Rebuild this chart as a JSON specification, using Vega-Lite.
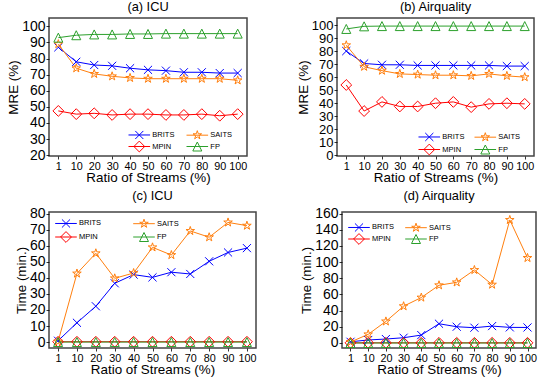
{
  "$schema": "https://vega.github.io/schema/vega-lite/v6.json",
  "padding": {"left": 5, "top": 0, "right": 0, "bottom": 0},
  "config": {
    "font": "Liberation Sans",
    "view": {"stroke": "#444", "strokeWidth": 1.5},
    "axis": {"grid": false, "domain": false, "tickColor": "#000", "tickSize": 3, "tickWidth": 0.8, "labelColor": "#000", "titleColor": "#000", "labelPadding": 1, "titlePadding": 1, "titleFontWeight": "normal", "titleFontSize": 13.4, "labelOverlap": false, "labelBound": false, "labelFlush": false},
    "axisX": {"labelFontSize": 10.8, "labelAngle": 0, "titlePadding": 0},
    "axisY": {"labelFontSize": 14},
    "title": {"fontSize": 12.8, "fontWeight": "normal", "offset": 0, "color": "#000"},
    "legend": {"labelFontSize": 7.5, "labelColor": "#000", "symbolStrokeWidth": 1, "symbolSize": 81, "labelOffset": 8, "columns": 2, "padding": 0, "rowPadding": 0, "columnPadding": 10, "symbolFillColor": "transparent"}
  },
  "datasets": {
    "mreICU": [
      {"ratio": 1, "method": "BRITS", "value": 87}, {"ratio": 10, "method": "BRITS", "value": 78}, {"ratio": 20, "method": "BRITS", "value": 76}, {"ratio": 30, "method": "BRITS", "value": 75.5}, {"ratio": 40, "method": "BRITS", "value": 74}, {"ratio": 50, "method": "BRITS", "value": 73}, {"ratio": 60, "method": "BRITS", "value": 72.5}, {"ratio": 70, "method": "BRITS", "value": 71.5}, {"ratio": 80, "method": "BRITS", "value": 71.5}, {"ratio": 90, "method": "BRITS", "value": 71}, {"ratio": 100, "method": "BRITS", "value": 71},
      {"ratio": 1, "method": "MPIN", "value": 47.5}, {"ratio": 10, "method": "MPIN", "value": 45.5}, {"ratio": 20, "method": "MPIN", "value": 46}, {"ratio": 30, "method": "MPIN", "value": 45}, {"ratio": 40, "method": "MPIN", "value": 45.5}, {"ratio": 50, "method": "MPIN", "value": 45.5}, {"ratio": 60, "method": "MPIN", "value": 45}, {"ratio": 70, "method": "MPIN", "value": 45}, {"ratio": 80, "method": "MPIN", "value": 45.5}, {"ratio": 90, "method": "MPIN", "value": 44.5}, {"ratio": 100, "method": "MPIN", "value": 45.5},
      {"ratio": 1, "method": "SAITS", "value": 89}, {"ratio": 10, "method": "SAITS", "value": 74}, {"ratio": 20, "method": "SAITS", "value": 70.5}, {"ratio": 30, "method": "SAITS", "value": 69}, {"ratio": 40, "method": "SAITS", "value": 68}, {"ratio": 50, "method": "SAITS", "value": 67.5}, {"ratio": 60, "method": "SAITS", "value": 67.5}, {"ratio": 70, "method": "SAITS", "value": 67.5}, {"ratio": 80, "method": "SAITS", "value": 67.5}, {"ratio": 90, "method": "SAITS", "value": 67.5}, {"ratio": 100, "method": "SAITS", "value": 66.5},
      {"ratio": 1, "method": "FP", "value": 93}, {"ratio": 10, "method": "FP", "value": 94.5}, {"ratio": 20, "method": "FP", "value": 95}, {"ratio": 30, "method": "FP", "value": 95}, {"ratio": 40, "method": "FP", "value": 95.3}, {"ratio": 50, "method": "FP", "value": 95.3}, {"ratio": 60, "method": "FP", "value": 95.5}, {"ratio": 70, "method": "FP", "value": 95.5}, {"ratio": 80, "method": "FP", "value": 95.5}, {"ratio": 90, "method": "FP", "value": 95.5}, {"ratio": 100, "method": "FP", "value": 95.5}
    ],
    "mreAir": [
      {"ratio": 1, "method": "BRITS", "value": 80}, {"ratio": 10, "method": "BRITS", "value": 70.5}, {"ratio": 20, "method": "BRITS", "value": 69.5}, {"ratio": 30, "method": "BRITS", "value": 69.5}, {"ratio": 40, "method": "BRITS", "value": 69}, {"ratio": 50, "method": "BRITS", "value": 69}, {"ratio": 60, "method": "BRITS", "value": 69}, {"ratio": 70, "method": "BRITS", "value": 69}, {"ratio": 80, "method": "BRITS", "value": 69}, {"ratio": 90, "method": "BRITS", "value": 68.5}, {"ratio": 100, "method": "BRITS", "value": 68.5},
      {"ratio": 1, "method": "MPIN", "value": 54}, {"ratio": 10, "method": "MPIN", "value": 34}, {"ratio": 20, "method": "MPIN", "value": 41}, {"ratio": 30, "method": "MPIN", "value": 37.5}, {"ratio": 40, "method": "MPIN", "value": 37.5}, {"ratio": 50, "method": "MPIN", "value": 40}, {"ratio": 60, "method": "MPIN", "value": 41}, {"ratio": 70, "method": "MPIN", "value": 37}, {"ratio": 80, "method": "MPIN", "value": 39.5}, {"ratio": 90, "method": "MPIN", "value": 40}, {"ratio": 100, "method": "MPIN", "value": 39.5},
      {"ratio": 1, "method": "SAITS", "value": 84.5}, {"ratio": 10, "method": "SAITS", "value": 68}, {"ratio": 20, "method": "SAITS", "value": 65}, {"ratio": 30, "method": "SAITS", "value": 62.5}, {"ratio": 40, "method": "SAITS", "value": 62}, {"ratio": 50, "method": "SAITS", "value": 61.5}, {"ratio": 60, "method": "SAITS", "value": 61.5}, {"ratio": 70, "method": "SAITS", "value": 61}, {"ratio": 80, "method": "SAITS", "value": 62.5}, {"ratio": 90, "method": "SAITS", "value": 61}, {"ratio": 100, "method": "SAITS", "value": 60},
      {"ratio": 1, "method": "FP", "value": 97}, {"ratio": 10, "method": "FP", "value": 99}, {"ratio": 20, "method": "FP", "value": 99.2}, {"ratio": 30, "method": "FP", "value": 99.2}, {"ratio": 40, "method": "FP", "value": 99.2}, {"ratio": 50, "method": "FP", "value": 99.2}, {"ratio": 60, "method": "FP", "value": 99.2}, {"ratio": 70, "method": "FP", "value": 99.2}, {"ratio": 80, "method": "FP", "value": 99.2}, {"ratio": 90, "method": "FP", "value": 99.2}, {"ratio": 100, "method": "FP", "value": 99.2}
    ],
    "timeICU": [
      {"ratio": 1, "method": "BRITS", "value": 0.8}, {"ratio": 10, "method": "BRITS", "value": 12}, {"ratio": 20, "method": "BRITS", "value": 22.3}, {"ratio": 30, "method": "BRITS", "value": 36.6}, {"ratio": 40, "method": "BRITS", "value": 42}, {"ratio": 50, "method": "BRITS", "value": 40.3}, {"ratio": 60, "method": "BRITS", "value": 43.5}, {"ratio": 70, "method": "BRITS", "value": 42.4}, {"ratio": 80, "method": "BRITS", "value": 50.3}, {"ratio": 90, "method": "BRITS", "value": 55.8}, {"ratio": 100, "method": "BRITS", "value": 58.5},
      {"ratio": 1, "method": "MPIN", "value": 0.2}, {"ratio": 10, "method": "MPIN", "value": 0.2}, {"ratio": 20, "method": "MPIN", "value": 0.2}, {"ratio": 30, "method": "MPIN", "value": 0.2}, {"ratio": 40, "method": "MPIN", "value": 0.2}, {"ratio": 50, "method": "MPIN", "value": 0.2}, {"ratio": 60, "method": "MPIN", "value": 0.2}, {"ratio": 70, "method": "MPIN", "value": 0.2}, {"ratio": 80, "method": "MPIN", "value": 0.2}, {"ratio": 90, "method": "MPIN", "value": 0.2}, {"ratio": 100, "method": "MPIN", "value": 0.2},
      {"ratio": 1, "method": "SAITS", "value": 0.3}, {"ratio": 10, "method": "SAITS", "value": 42.7}, {"ratio": 20, "method": "SAITS", "value": 55.3}, {"ratio": 30, "method": "SAITS", "value": 39.7}, {"ratio": 40, "method": "SAITS", "value": 43}, {"ratio": 50, "method": "SAITS", "value": 59}, {"ratio": 60, "method": "SAITS", "value": 54.2}, {"ratio": 70, "method": "SAITS", "value": 69.2}, {"ratio": 80, "method": "SAITS", "value": 65.3}, {"ratio": 90, "method": "SAITS", "value": 74.5}, {"ratio": 100, "method": "SAITS", "value": 72.5},
      {"ratio": 1, "method": "FP", "value": 0}, {"ratio": 10, "method": "FP", "value": 0}, {"ratio": 20, "method": "FP", "value": 0}, {"ratio": 30, "method": "FP", "value": 0}, {"ratio": 40, "method": "FP", "value": 0}, {"ratio": 50, "method": "FP", "value": 0}, {"ratio": 60, "method": "FP", "value": 0}, {"ratio": 70, "method": "FP", "value": 0}, {"ratio": 80, "method": "FP", "value": 0}, {"ratio": 90, "method": "FP", "value": 0}, {"ratio": 100, "method": "FP", "value": 0}
    ],
    "timeAir": [
      {"ratio": 1, "method": "BRITS", "value": 1.5}, {"ratio": 10, "method": "BRITS", "value": 3.7}, {"ratio": 20, "method": "BRITS", "value": 4.9}, {"ratio": 30, "method": "BRITS", "value": 6.5}, {"ratio": 40, "method": "BRITS", "value": 9.8}, {"ratio": 50, "method": "BRITS", "value": 23.8}, {"ratio": 60, "method": "BRITS", "value": 20.1}, {"ratio": 70, "method": "BRITS", "value": 18.9}, {"ratio": 80, "method": "BRITS", "value": 20.9}, {"ratio": 90, "method": "BRITS", "value": 19.3}, {"ratio": 100, "method": "BRITS", "value": 19.2},
      {"ratio": 1, "method": "MPIN", "value": 0.2}, {"ratio": 10, "method": "MPIN", "value": 0.2}, {"ratio": 20, "method": "MPIN", "value": 0.2}, {"ratio": 30, "method": "MPIN", "value": 0.2}, {"ratio": 40, "method": "MPIN", "value": 0.2}, {"ratio": 50, "method": "MPIN", "value": 0.2}, {"ratio": 60, "method": "MPIN", "value": 0.2}, {"ratio": 70, "method": "MPIN", "value": 0.2}, {"ratio": 80, "method": "MPIN", "value": 0.2}, {"ratio": 90, "method": "MPIN", "value": 0.2}, {"ratio": 100, "method": "MPIN", "value": 0.2},
      {"ratio": 1, "method": "SAITS", "value": 1.2}, {"ratio": 10, "method": "SAITS", "value": 10.7}, {"ratio": 20, "method": "SAITS", "value": 26.7}, {"ratio": 30, "method": "SAITS", "value": 45.5}, {"ratio": 40, "method": "SAITS", "value": 56.2}, {"ratio": 50, "method": "SAITS", "value": 71.4}, {"ratio": 60, "method": "SAITS", "value": 75}, {"ratio": 70, "method": "SAITS", "value": 90.3}, {"ratio": 80, "method": "SAITS", "value": 72.2}, {"ratio": 90, "method": "SAITS", "value": 152.2}, {"ratio": 100, "method": "SAITS", "value": 105.2},
      {"ratio": 1, "method": "FP", "value": 0}, {"ratio": 10, "method": "FP", "value": 0}, {"ratio": 20, "method": "FP", "value": 0}, {"ratio": 30, "method": "FP", "value": 0}, {"ratio": 40, "method": "FP", "value": 0}, {"ratio": 50, "method": "FP", "value": 0}, {"ratio": 60, "method": "FP", "value": 0}, {"ratio": 70, "method": "FP", "value": 0}, {"ratio": 80, "method": "FP", "value": 0}, {"ratio": 90, "method": "FP", "value": 0}, {"ratio": 100, "method": "FP", "value": 0}
    ]
  },
  "vconcat": [
    {
      "spacing": 47,
      "hconcat": [
        {
          "title": "(a) ICU",
          "width": 198, "height": 138,
          "data": {"name": "mreICU"},
          "resolve": {"scale": {"color": "independent", "shape": "independent"}},
          "encoding": {
            "x": {"field": "ratio", "type": "ordinal", "scale": {"type": "point", "padding": 0.52}, "axis": {"title": "Ratio of Streams (%)"}},
            "y": {"field": "value", "type": "quantitative", "scale": {"domain": [19.5, 105.2], "nice": false, "zero": false}, "axis": {"title": "MRE (%)", "values": [20, 30, 40, 50, 60, 70, 80, 90, 100]}}
          },
          "layer": [
            {"mark": {"type": "line", "strokeWidth": 1}, "encoding": {"color": {"field": "method", "type": "nominal", "scale": {"domain": ["BRITS", "MPIN", "SAITS", "FP"], "range": ["#0000ff", "#ff0000", "#ff7f0e", "#2ca02c"]}, "legend": null}}},
            {"mark": {"type": "point", "filled": false, "strokeWidth": 1, "size": 81, "opacity": 1}, "encoding": {"color": {"field": "method", "type": "nominal", "scale": {"domain": ["BRITS", "MPIN", "SAITS", "FP"], "range": ["#0000ff", "#ff0000", "#ff7f0e", "#2ca02c"]}, "legend": null}, "shape": {"field": "method", "type": "nominal", "scale": {"domain": ["BRITS", "MPIN", "SAITS", "FP"], "range": ["M-0.9,-0.9L0.9,0.9M-0.9,0.9L0.9,-0.9", "M0,-1.2L1.2,0L0,1.2L-1.2,0Z", "M0,-1L0.225,-0.309L0.951,-0.309L0.363,0.118L0.588,0.809L0,0.382L-0.588,0.809L-0.363,0.118L-0.951,-0.309L-0.225,-0.309Z", "M0,-1L1,1L-1,1Z"]}, "legend": null}}},
            {"transform": [{"filter": "false"}], "mark": {"type": "point", "filled": false, "strokeWidth": 1, "size": 81, "opacity": 1}, "encoding": {"color": {"field": "method", "type": "nominal", "scale": {"domain": ["BRITS", "MPIN", "SAITS", "FP"], "range": ["#0000ff", "#ff0000", "#ff7f0e", "#2ca02c"]}, "legend": {"title": null, "orient": "none", "legendX": 85.3, "legendY": 111.5, "rowPadding": -4, "columnPadding": 9, "symbolSize": 81}}, "shape": {"field": "method", "type": "nominal", "scale": {"domain": ["BRITS", "MPIN", "SAITS", "FP"], "range": ["M-2.4,0H2.4M-0.9,-0.9L0.9,0.9M-0.9,0.9L0.9,-0.9", "M-2.4,0H2.4M0,-1.2L1.2,0L0,1.2L-1.2,0Z", "M-2.4,0H2.4M0,-1L0.225,-0.309L0.951,-0.309L0.363,0.118L0.588,0.809L0,0.382L-0.588,0.809L-0.363,0.118L-0.951,-0.309L-0.225,-0.309Z", "M-2.4,0H2.4M0,-1L1,1L-1,1Z"]}, "legend": {"title": null, "orient": "none", "legendX": 85.3, "legendY": 111.5, "rowPadding": -4, "columnPadding": 9, "symbolSize": 81}}}}
          ]
        },
        {
          "title": "(b) Airquality",
          "width": 197, "height": 138,
          "data": {"name": "mreAir"},
          "resolve": {"scale": {"color": "independent", "shape": "independent"}},
          "encoding": {
            "x": {"field": "ratio", "type": "ordinal", "scale": {"type": "point", "padding": 0.52}, "axis": {"title": "Ratio of Streams (%)"}},
            "y": {"field": "value", "type": "quantitative", "scale": {"domain": [-0.5, 105.4], "nice": false, "zero": false}, "axis": {"title": "MRE (%)", "labelFontSize": 13, "values": [0, 10, 20, 30, 40, 50, 60, 70, 80, 90, 100]}}
          },
          "layer": [
            {"mark": {"type": "line", "strokeWidth": 1}, "encoding": {"color": {"field": "method", "type": "nominal", "scale": {"domain": ["BRITS", "MPIN", "SAITS", "FP"], "range": ["#0000ff", "#ff0000", "#ff7f0e", "#2ca02c"]}, "legend": null}}},
            {"mark": {"type": "point", "filled": false, "strokeWidth": 1, "size": 81, "opacity": 1}, "encoding": {"color": {"field": "method", "type": "nominal", "scale": {"domain": ["BRITS", "MPIN", "SAITS", "FP"], "range": ["#0000ff", "#ff0000", "#ff7f0e", "#2ca02c"]}, "legend": null}, "shape": {"field": "method", "type": "nominal", "scale": {"domain": ["BRITS", "MPIN", "SAITS", "FP"], "range": ["M-0.9,-0.9L0.9,0.9M-0.9,0.9L0.9,-0.9", "M0,-1.2L1.2,0L0,1.2L-1.2,0Z", "M0,-1L0.225,-0.309L0.951,-0.309L0.363,0.118L0.588,0.809L0,0.382L-0.588,0.809L-0.363,0.118L-0.951,-0.309L-0.225,-0.309Z", "M0,-1L1,1L-1,1Z"]}, "legend": null}}},
            {"transform": [{"filter": "false"}], "mark": {"type": "point", "filled": false, "strokeWidth": 1, "size": 81, "opacity": 1}, "encoding": {"color": {"field": "method", "type": "nominal", "scale": {"domain": ["BRITS", "MPIN", "SAITS", "FP"], "range": ["#0000ff", "#ff0000", "#ff7f0e", "#2ca02c"]}, "legend": {"title": null, "orient": "none", "legendX": 87.3, "legendY": 113.5, "rowPadding": -2, "columnPadding": 7, "symbolSize": 81}}, "shape": {"field": "method", "type": "nominal", "scale": {"domain": ["BRITS", "MPIN", "SAITS", "FP"], "range": ["M-2.4,0H2.4M-0.9,-0.9L0.9,0.9M-0.9,0.9L0.9,-0.9", "M-2.4,0H2.4M0,-1.2L1.2,0L0,1.2L-1.2,0Z", "M-2.4,0H2.4M0,-1L0.225,-0.309L0.951,-0.309L0.363,0.118L0.588,0.809L0,0.382L-0.588,0.809L-0.363,0.118L-0.951,-0.309L-0.225,-0.309Z", "M-2.4,0H2.4M0,-1L1,1L-1,1Z"]}, "legend": {"title": null, "orient": "none", "legendX": 87.3, "legendY": 113.5, "rowPadding": -2, "columnPadding": 7, "symbolSize": 81}}}}
          ]
        }
      ]
    },
    {
      "spacing": 41,
      "hconcat": [
        {
          "title": "(c) ICU",
          "width": 207, "height": 136,
          "data": {"name": "timeICU"},
          "resolve": {"scale": {"color": "independent", "shape": "independent"}},
          "encoding": {
            "x": {"field": "ratio", "type": "ordinal", "scale": {"type": "point", "padding": 0.48}, "axis": {"title": "Ratio of Streams (%)"}},
            "y": {"field": "value", "type": "quantitative", "scale": {"domain": [-3.7, 81], "nice": false, "zero": false}, "axis": {"title": "Time (min.)", "values": [0, 10, 20, 30, 40, 50, 60, 70, 80]}}
          },
          "layer": [
            {"mark": {"type": "line", "strokeWidth": 1}, "encoding": {"color": {"field": "method", "type": "nominal", "scale": {"domain": ["BRITS", "MPIN", "SAITS", "FP"], "range": ["#0000ff", "#ff0000", "#ff7f0e", "#2ca02c"]}, "legend": null}}},
            {"mark": {"type": "point", "filled": false, "strokeWidth": 1, "size": 81, "opacity": 1}, "encoding": {"color": {"field": "method", "type": "nominal", "scale": {"domain": ["BRITS", "MPIN", "SAITS", "FP"], "range": ["#0000ff", "#ff0000", "#ff7f0e", "#2ca02c"]}, "legend": null}, "shape": {"field": "method", "type": "nominal", "scale": {"domain": ["BRITS", "MPIN", "SAITS", "FP"], "range": ["M-0.9,-0.9L0.9,0.9M-0.9,0.9L0.9,-0.9", "M0,-1.2L1.2,0L0,1.2L-1.2,0Z", "M0,-1L0.225,-0.309L0.951,-0.309L0.363,0.118L0.588,0.809L0,0.382L-0.588,0.809L-0.363,0.118L-0.951,-0.309L-0.225,-0.309Z", "M0,-1L1,1L-1,1Z"]}, "legend": null}}},
            {"transform": [{"filter": "false"}], "mark": {"type": "point", "filled": false, "strokeWidth": 1, "size": 81, "opacity": 1}, "encoding": {"color": {"field": "method", "type": "nominal", "scale": {"domain": ["BRITS", "MPIN", "SAITS", "FP"], "range": ["#0000ff", "#ff0000", "#ff7f0e", "#2ca02c"]}, "legend": {"title": null, "orient": "none", "legendX": 12, "legendY": 6, "rowPadding": -1, "columnPadding": 29, "symbolSize": 81}}, "shape": {"field": "method", "type": "nominal", "scale": {"domain": ["BRITS", "MPIN", "SAITS", "FP"], "range": ["M-2.4,0H2.4M-0.9,-0.9L0.9,0.9M-0.9,0.9L0.9,-0.9", "M-2.4,0H2.4M0,-1.2L1.2,0L0,1.2L-1.2,0Z", "M-2.4,0H2.4M0,-1L0.225,-0.309L0.951,-0.309L0.363,0.118L0.588,0.809L0,0.382L-0.588,0.809L-0.363,0.118L-0.951,-0.309L-0.225,-0.309Z", "M-2.4,0H2.4M0,-1L1,1L-1,1Z"]}, "legend": {"title": null, "orient": "none", "legendX": 12, "legendY": 6, "rowPadding": -1, "columnPadding": 29, "symbolSize": 81}}}}
          ]
        },
        {
          "title": "(d) Airquality",
          "width": 194, "height": 136,
          "data": {"name": "timeAir"},
          "resolve": {"scale": {"color": "independent", "shape": "independent"}},
          "encoding": {
            "x": {"field": "ratio", "type": "ordinal", "scale": {"type": "point", "padding": 0.48}, "axis": {"title": "Ratio of Streams (%)"}},
            "y": {"field": "value", "type": "quantitative", "scale": {"domain": [-6.2, 162], "nice": false, "zero": false}, "axis": {"title": "Time (min.)", "values": [0, 20, 40, 60, 80, 100, 120, 140, 160]}}
          },
          "layer": [
            {"mark": {"type": "line", "strokeWidth": 1}, "encoding": {"color": {"field": "method", "type": "nominal", "scale": {"domain": ["BRITS", "MPIN", "SAITS", "FP"], "range": ["#0000ff", "#ff0000", "#ff7f0e", "#2ca02c"]}, "legend": null}}},
            {"mark": {"type": "point", "filled": false, "strokeWidth": 1, "size": 81, "opacity": 1}, "encoding": {"color": {"field": "method", "type": "nominal", "scale": {"domain": ["BRITS", "MPIN", "SAITS", "FP"], "range": ["#0000ff", "#ff0000", "#ff7f0e", "#2ca02c"]}, "legend": null}, "shape": {"field": "method", "type": "nominal", "scale": {"domain": ["BRITS", "MPIN", "SAITS", "FP"], "range": ["M-0.9,-0.9L0.9,0.9M-0.9,0.9L0.9,-0.9", "M0,-1.2L1.2,0L0,1.2L-1.2,0Z", "M0,-1L0.225,-0.309L0.951,-0.309L0.363,0.118L0.588,0.809L0,0.382L-0.588,0.809L-0.363,0.118L-0.951,-0.309L-0.225,-0.309Z", "M0,-1L1,1L-1,1Z"]}, "legend": null}}},
            {"transform": [{"filter": "false"}], "mark": {"type": "point", "filled": false, "strokeWidth": 1, "size": 81, "opacity": 1}, "encoding": {"color": {"field": "method", "type": "nominal", "scale": {"domain": ["BRITS", "MPIN", "SAITS", "FP"], "range": ["#0000ff", "#ff0000", "#ff7f0e", "#2ca02c"]}, "legend": {"title": null, "orient": "none", "legendX": 12, "legendY": 10, "rowPadding": -3, "columnPadding": 8, "symbolSize": 81}}, "shape": {"field": "method", "type": "nominal", "scale": {"domain": ["BRITS", "MPIN", "SAITS", "FP"], "range": ["M-2.4,0H2.4M-0.9,-0.9L0.9,0.9M-0.9,0.9L0.9,-0.9", "M-2.4,0H2.4M0,-1.2L1.2,0L0,1.2L-1.2,0Z", "M-2.4,0H2.4M0,-1L0.225,-0.309L0.951,-0.309L0.363,0.118L0.588,0.809L0,0.382L-0.588,0.809L-0.363,0.118L-0.951,-0.309L-0.225,-0.309Z", "M-2.4,0H2.4M0,-1L1,1L-1,1Z"]}, "legend": {"title": null, "orient": "none", "legendX": 12, "legendY": 10, "rowPadding": -3, "columnPadding": 8, "symbolSize": 81}}}}
          ]
        }
      ]
    }
  ],
  "spacing": 4
}
